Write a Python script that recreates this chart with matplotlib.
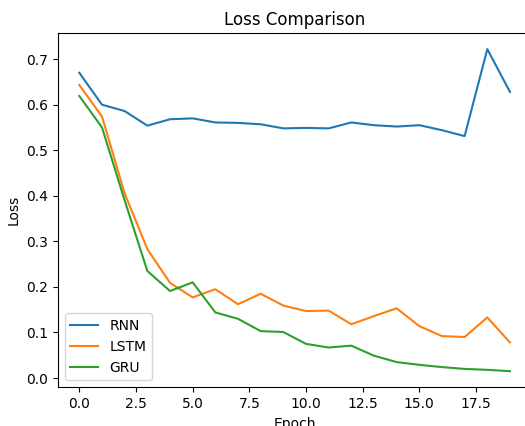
import matplotlib
matplotlib.use("Agg")
import matplotlib.pyplot as plt

epochs = list(range(20))
rnn = [0.670, 0.600, 0.586, 0.554, 0.568, 0.570, 0.561, 0.560, 0.557, 0.548,
       0.549, 0.548, 0.561, 0.555, 0.552, 0.555, 0.544, 0.531, 0.722, 0.628]
lstm = [0.643, 0.574, 0.405, 0.283, 0.209, 0.177, 0.195, 0.162, 0.185, 0.159,
        0.147, 0.148, 0.118, 0.136, 0.153, 0.114, 0.092, 0.090, 0.133, 0.078]
gru = [0.619, 0.550, 0.390, 0.235, 0.191, 0.210, 0.144, 0.130, 0.103, 0.101,
       0.075, 0.067, 0.071, 0.049, 0.035, 0.029, 0.024, 0.020, 0.018, 0.015]

fig = plt.figure(figsize=(5.25, 4.26), dpi=100)
ax = fig.add_axes([57.8 / 525, (426 - 387.3) / 426, 473.7 / 525, 354.3 / 426])
ax.plot(epochs, rnn, label="RNN")
ax.plot(epochs, lstm, label="LSTM")
ax.plot(epochs, gru, label="GRU")
ax.set_title("Loss Comparison")
ax.set_xlabel("Epoch")
ax.set_ylabel("Loss")
ax.legend(loc="lower left")
fig.savefig("out.png", dpi=100)
